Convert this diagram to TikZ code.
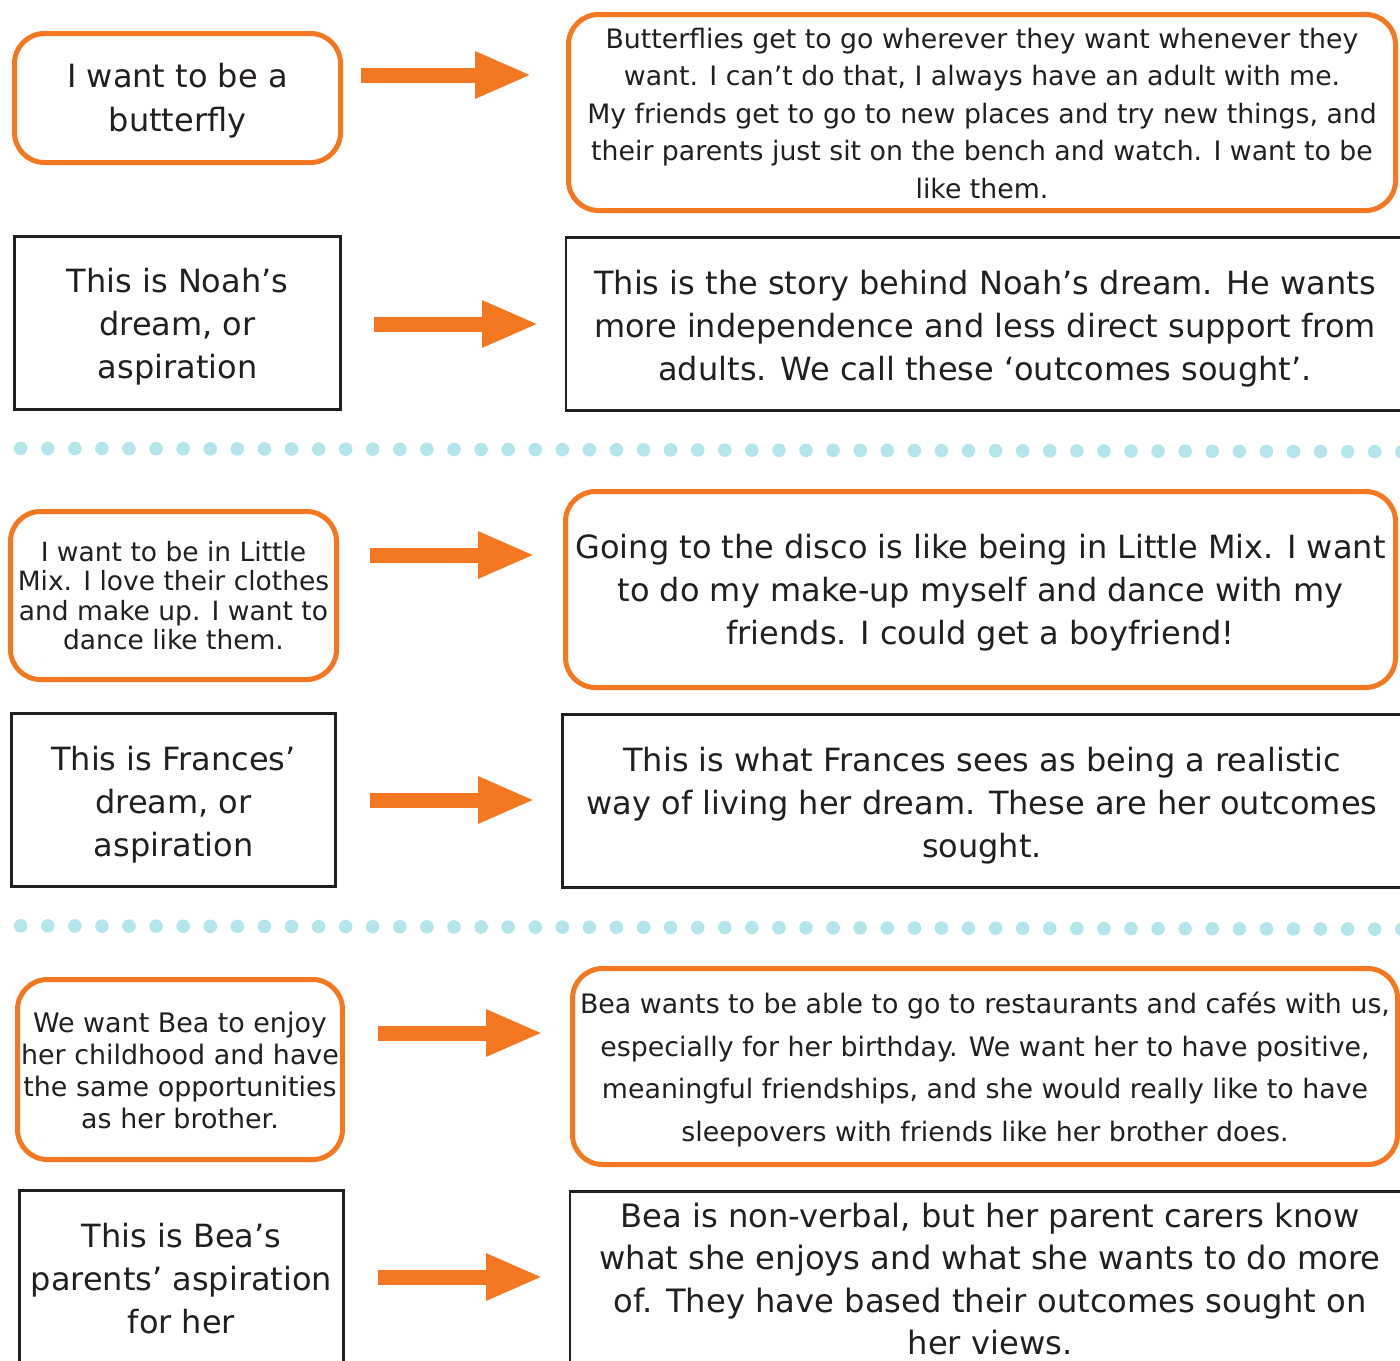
\documentclass[tikz,border=0pt]{standalone}
\usepackage{fontspec}
\setmainfont{DejaVu Sans}
\usetikzlibrary{arrows.meta}
\definecolor{orng}{HTML}{F47721}
\definecolor{ink}{HTML}{231F20}
\definecolor{dotc}{HTML}{B3E5EA}
\newcommand{\fs}[2]{\fontsize{#1}{#2}\selectfont}
\tikzset{
  obox/.style={draw=orng, line width=2.5pt, rounded corners=15pt, inner sep=0pt},
  kbox/.style={draw=ink, line width=1.4pt, inner sep=0pt},
  txt/.style={align=center, inner sep=0pt, text=ink},
  bigarrow/.style={draw=orng, line width=7.5pt, -{Triangle[length=28.5pt, width=21.5pt]}},
  dotmark/.style={fill=dotc, draw=none}
}
\begin{document}
\begin{tikzpicture}[x=0.5pt, y=-0.5pt]
\useasboundingbox (0,0) rectangle (1400,1360);
\clip (0,0) rectangle (1400,1360);

% dotted separators
\foreach \i in {-1,...,51} {
  \fill[dotmark] ({20.7+27.08*\i}, {448.3+3.4*(20.7+27.08*\i)/1400}) circle (6.8);
  \fill[dotmark] ({20.7+27.08*\i}, {925.8+3.4*(20.7+27.08*\i)/1400}) circle (6.8);
}

% row 1
\node[obox, minimum width=163pt, minimum height=64.5pt] (a1) at (177.5,98) {};
\node[txt, font=\fs{16pt}{22pt}] (a1t) at (177.5,101) {I want to be a\\butterfly};
\node[obox, minimum width=413.5pt, minimum height=98pt] (b1) at (982,112.5) {};
\node[txt, font=\fs{13.37pt}{18.75pt}] (b1t) at (982,113.5)
  {Butterflies get to go wherever they want whenever they\\
   want. I can’t do that, I always have an adult with me.\\
   My friends get to go to new places and try new things, and\\
   their parents just sit on the bench and watch. I want to be\\
   like them.};
\coordinate (r1s) at (361,75);
\coordinate (r1e) at (532,75);
\draw[bigarrow] (r1s) -- (r1e);

% row 2
\node[kbox, minimum width=163pt, minimum height=86.5pt] (a2) at (177.5,323) {};
\node[txt, font=\fs{16pt}{21.5pt}] (a2t) at (177.5,327) {This is Noah’s\\dream, or\\aspiration};
\node[kbox, minimum width=419pt, minimum height=86.5pt] (b2) at (985,324) {};
\node[txt, font=\fs{16pt}{21.5pt}] (b2t) at (985,329)
  {This is the story behind Noah’s dream. He wants\\
   more independence and less direct support from\\
   adults. We call these ‘outcomes sought’.};
\coordinate (r2s) at (374,324);
\coordinate (r2e) at (539,324);
\draw[bigarrow] (r2s) -- (r2e);

% row 3
\node[obox, minimum width=163pt, minimum height=84pt] (a3) at (173.5,595.5) {};
\node[txt, font=\fs{13.25pt}{14.65pt}] (a3t) at (173.5,595.5)
  {I want to be in Little\\Mix. I love their clothes\\and make up. I want to\\dance like them.};
\node[obox, minimum width=415pt, minimum height=98pt] (b3) at (980.5,589.5) {};
\node[txt, font=\fs{16pt}{21.5pt}] (b3t) at (980.5,593)
  {Going to the disco is like being in Little Mix. I want\\
   to do my make-up myself and dance with my\\
   friends. I could get a boyfriend!};
\coordinate (r3s) at (370,555);
\coordinate (r3e) at (535,555);
\draw[bigarrow] (r3s) -- (r3e);

% row 4
\node[kbox, minimum width=162pt, minimum height=86.5pt] (a4) at (173.5,800) {};
\node[txt, font=\fs{16pt}{21.5pt}] (a4t) at (173.5,804.5) {This is Frances’\\dream, or\\aspiration};
\node[kbox, minimum width=419.75pt, minimum height=86.5pt] (b4) at (982,801) {};
\node[txt, font=\fs{16pt}{21.5pt}] (b4t) at (982,806)
  {This is what Frances sees as being a realistic\\
   way of living her dream. These are her outcomes\\
   sought.};
\coordinate (r4s) at (370,800);
\coordinate (r4e) at (535,800);
\draw[bigarrow] (r4s) -- (r4e);

% row 5
\node[obox, minimum width=162.5pt, minimum height=90pt] (a5) at (180,1069.5) {};
\node[txt, font=\fs{13.45pt}{16pt}] (a5t) at (180,1070.5)
  {We want Bea to enjoy\\her childhood and have\\the same opportunities\\as her brother.};
\node[obox, minimum width=412.5pt, minimum height=98pt] (b5) at (985,1066.5) {};
\node[txt, font=\fs{13.4pt}{21.35pt}] (b5t) at (985,1069.5)
  {Bea wants to be able to go to restaurants and cafés with us,\\
   especially for her birthday. We want her to have positive,\\
   meaningful friendships, and she would really like to have\\
   sleepovers with friends like her brother does.};
\coordinate (r5s) at (378,1033);
\coordinate (r5e) at (543,1033);
\draw[bigarrow] (r5s) -- (r5e);

% row 6
\node[kbox, minimum width=162pt, minimum height=88.75pt] (a6) at (181.5,1279) {};
\node[txt, font=\fs{16pt}{21.5pt}] (a6t) at (181.5,1278.5) {This is Bea’s\\parents’ aspiration\\for her};
\node[kbox, minimum width=420pt, minimum height=89.25pt] (b6) at (990,1281) {};
\node[txt, font=\fs{16.1pt}{21.2pt}] (b6t) at (990,1279)
  {Bea is non-verbal, but her parent carers know\\
   what she enjoys and what she wants to do more\\
   of. They have based their outcomes sought on\\
   her views.};
\coordinate (r6s) at (378,1277);
\coordinate (r6e) at (543,1277);
\draw[bigarrow] (r6s) -- (r6e);
\end{tikzpicture}
\end{document}
